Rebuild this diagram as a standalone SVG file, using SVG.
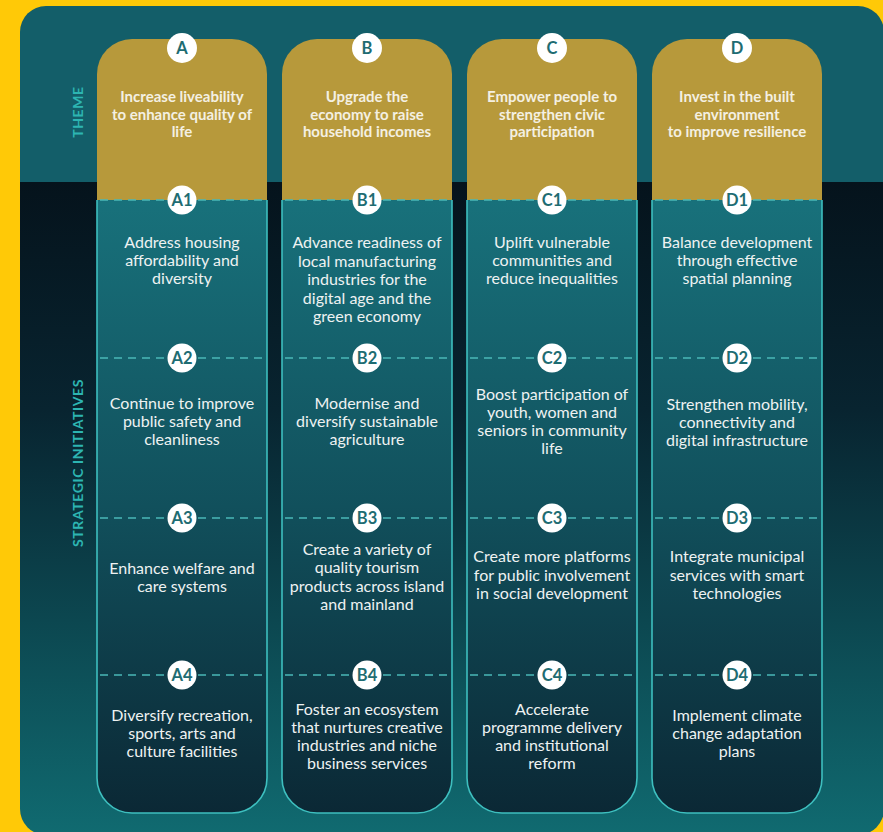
<svg xmlns="http://www.w3.org/2000/svg" width="883" height="832" viewBox="0 0 883 832">
  <defs>
    <clipPath id="panelClip">
      <rect x="20" y="6" width="864" height="829" rx="26"/>
    </clipPath>
    <linearGradient id="bgGrad" x1="0" y1="182" x2="0" y2="832" gradientUnits="userSpaceOnUse">
      <stop offset="0" stop-color="#05131C"/>
      <stop offset="0.35" stop-color="#082430"/>
      <stop offset="1" stop-color="#106A70"/>
    </linearGradient>
    <linearGradient id="colGrad" x1="0" y1="200" x2="0" y2="813" gradientUnits="userSpaceOnUse">
      <stop offset="0" stop-color="#18717B"/>
      <stop offset="0.5" stop-color="#11505C"/>
      <stop offset="1" stop-color="#0B2835"/>
    </linearGradient>
    <style>
      .gold { fill: #B7993B; }
      .strat { fill: url(#colGrad); stroke: #3EBFBF; stroke-width: 1.6; }
      .dash { stroke: #4AB8B8; stroke-width: 1.5; stroke-dasharray: 8 6; fill: none; }
      .badge { fill: #FFFFFF; }
      .blabel { font-family: Lato, "Open Sans", sans-serif; font-weight: 700; font-size: 16.5px; fill: #1E6C72; text-anchor: middle; }
      .theme { font-family: Lato, "Open Sans", sans-serif; font-weight: 700; font-size: 15px; fill: #F4F0E2; text-anchor: middle; }
      .init { font-family: Lato, "Open Sans", sans-serif; font-weight: 400; font-size: 16px; fill: #EEF2F2; text-anchor: middle; }
      .side { font-family: Lato, "Open Sans", sans-serif; font-weight: 700; font-size: 14px; fill: #2DB5B2; text-anchor: middle; letter-spacing: 0.6px; }
    </style>
  </defs>

  <!-- background -->
  <rect x="0" y="0" width="883" height="832" fill="#FFC907"/>
  <g clip-path="url(#panelClip)">
    <rect x="20" y="6" width="864" height="176" fill="#135E69"/>
    <rect x="20" y="182" width="864" height="653" fill="url(#bgGrad)"/>
  </g>

  <text class="side" transform="translate(83,112) rotate(-90)">THEME</text>
  <text class="side" transform="translate(83,463) rotate(-90)">STRATEGIC INITIATIVES</text>

  <!-- Column A -->
  <g id="col-A">
    <path class="gold" d="M97,200 V74 A35,35 0 0 1 132,39 H232 A35,35 0 0 1 267,74 V200 Z"/>
    <path class="strat" d="M97,200 V778 A35,35 0 0 0 132,813 H232 A35,35 0 0 0 267,778 V200"/>
    <line class="dash" x1="100" y1="200" x2="264" y2="200"/>
    <line class="dash" x1="100" y1="358" x2="264" y2="358"/>
    <line class="dash" x1="100" y1="518" x2="264" y2="518"/>
    <line class="dash" x1="100" y1="675" x2="264" y2="675"/>
    <circle class="badge" cx="182" cy="48" r="15"/><text class="blabel" x="182" y="54">A</text>
    <text class="theme" x="182" y="102">Increase liveability</text>
    <text class="theme" x="182" y="119.5">to enhance quality of</text>
    <text class="theme" x="182" y="137">life</text>
    <circle class="badge" cx="182" cy="200" r="14.5"/><text class="blabel" x="182" y="206">A1</text>
    <text class="init" x="182" y="248">Address housing</text>
    <text class="init" x="182" y="266">affordability and</text>
    <text class="init" x="182" y="284">diversity</text>
    <circle class="badge" cx="182" cy="358" r="14.5"/><text class="blabel" x="182" y="364">A2</text>
    <text class="init" x="182" y="409">Continue to improve</text>
    <text class="init" x="182" y="427">public safety and</text>
    <text class="init" x="182" y="445">cleanliness</text>
    <circle class="badge" cx="182" cy="518" r="14.5"/><text class="blabel" x="182" y="524">A3</text>
    <text class="init" x="182" y="574">Enhance welfare and</text>
    <text class="init" x="182" y="592">care systems</text>
    <circle class="badge" cx="182" cy="675" r="14.5"/><text class="blabel" x="182" y="681">A4</text>
    <text class="init" x="182" y="721">Diversify recreation,</text>
    <text class="init" x="182" y="739">sports, arts and</text>
    <text class="init" x="182" y="757">culture facilities</text>
  </g>

  <!-- Column B -->
  <g id="col-B">
    <path class="gold" d="M282,200 V74 A35,35 0 0 1 317,39 H417 A35,35 0 0 1 452,74 V200 Z"/>
    <path class="strat" d="M282,200 V778 A35,35 0 0 0 317,813 H417 A35,35 0 0 0 452,778 V200"/>
    <line class="dash" x1="285" y1="200" x2="449" y2="200"/>
    <line class="dash" x1="285" y1="358" x2="449" y2="358"/>
    <line class="dash" x1="285" y1="518" x2="449" y2="518"/>
    <line class="dash" x1="285" y1="675" x2="449" y2="675"/>
    <circle class="badge" cx="367" cy="48" r="15"/><text class="blabel" x="367" y="54">B</text>
    <text class="theme" x="367" y="102">Upgrade the</text>
    <text class="theme" x="367" y="119.5">economy to raise</text>
    <text class="theme" x="367" y="137">household incomes</text>
    <circle class="badge" cx="367" cy="200" r="14.5"/><text class="blabel" x="367" y="206">B1</text>
    <text class="init" x="367" y="248">Advance readiness of</text>
    <text class="init" x="367" y="266.5">local manufacturing</text>
    <text class="init" x="367" y="285">industries for the</text>
    <text class="init" x="367" y="303.5">digital age and the</text>
    <text class="init" x="367" y="322">green economy</text>
    <circle class="badge" cx="367" cy="358" r="14.5"/><text class="blabel" x="367" y="364">B2</text>
    <text class="init" x="367" y="409">Modernise and</text>
    <text class="init" x="367" y="427">diversify sustainable</text>
    <text class="init" x="367" y="445">agriculture</text>
    <circle class="badge" cx="367" cy="518" r="14.5"/><text class="blabel" x="367" y="524">B3</text>
    <text class="init" x="367" y="555">Create a variety of</text>
    <text class="init" x="367" y="573">quality tourism</text>
    <text class="init" x="367" y="591.5">products across island</text>
    <text class="init" x="367" y="610">and mainland</text>
    <circle class="badge" cx="367" cy="675" r="14.5"/><text class="blabel" x="367" y="681">B4</text>
    <text class="init" x="367" y="715">Foster an ecosystem</text>
    <text class="init" x="367" y="733">that nurtures creative</text>
    <text class="init" x="367" y="751">industries and niche</text>
    <text class="init" x="367" y="769">business services</text>
  </g>

  <!-- Column C -->
  <g id="col-C">
    <path class="gold" d="M467,200 V74 A35,35 0 0 1 502,39 H602 A35,35 0 0 1 637,74 V200 Z"/>
    <path class="strat" d="M467,200 V778 A35,35 0 0 0 502,813 H602 A35,35 0 0 0 637,778 V200"/>
    <line class="dash" x1="470" y1="200" x2="634" y2="200"/>
    <line class="dash" x1="470" y1="358" x2="634" y2="358"/>
    <line class="dash" x1="470" y1="518" x2="634" y2="518"/>
    <line class="dash" x1="470" y1="675" x2="634" y2="675"/>
    <circle class="badge" cx="552" cy="48" r="15"/><text class="blabel" x="552" y="54">C</text>
    <text class="theme" x="552" y="102">Empower people to</text>
    <text class="theme" x="552" y="119.5">strengthen civic</text>
    <text class="theme" x="552" y="137">participation</text>
    <circle class="badge" cx="552" cy="200" r="14.5"/><text class="blabel" x="552" y="206">C1</text>
    <text class="init" x="552" y="248">Uplift vulnerable</text>
    <text class="init" x="552" y="266">communities and</text>
    <text class="init" x="552" y="284">reduce inequalities</text>
    <circle class="badge" cx="552" cy="358" r="14.5"/><text class="blabel" x="552" y="364">C2</text>
    <text class="init" x="552" y="400">Boost participation of</text>
    <text class="init" x="552" y="418">youth, women and</text>
    <text class="init" x="552" y="436">seniors in community</text>
    <text class="init" x="552" y="454">life</text>
    <circle class="badge" cx="552" cy="518" r="14.5"/><text class="blabel" x="552" y="524">C3</text>
    <text class="init" x="552" y="562">Create more platforms</text>
    <text class="init" x="552" y="580.5">for public involvement</text>
    <text class="init" x="552" y="599">in social development</text>
    <circle class="badge" cx="552" cy="675" r="14.5"/><text class="blabel" x="552" y="681">C4</text>
    <text class="init" x="552" y="715">Accelerate</text>
    <text class="init" x="552" y="733">programme delivery</text>
    <text class="init" x="552" y="751">and institutional</text>
    <text class="init" x="552" y="769">reform</text>
  </g>

  <!-- Column D -->
  <g id="col-D">
    <path class="gold" d="M652,200 V74 A35,35 0 0 1 687,39 H787 A35,35 0 0 1 822,74 V200 Z"/>
    <path class="strat" d="M652,200 V778 A35,35 0 0 0 687,813 H787 A35,35 0 0 0 822,778 V200"/>
    <line class="dash" x1="655" y1="200" x2="819" y2="200"/>
    <line class="dash" x1="655" y1="358" x2="819" y2="358"/>
    <line class="dash" x1="655" y1="518" x2="819" y2="518"/>
    <line class="dash" x1="655" y1="675" x2="819" y2="675"/>
    <circle class="badge" cx="737" cy="48" r="15"/><text class="blabel" x="737" y="54">D</text>
    <text class="theme" x="737" y="102">Invest in the built</text>
    <text class="theme" x="737" y="119.5">environment</text>
    <text class="theme" x="737" y="137">to improve resilience</text>
    <circle class="badge" cx="737" cy="200" r="14.5"/><text class="blabel" x="737" y="206">D1</text>
    <text class="init" x="737" y="248">Balance development</text>
    <text class="init" x="737" y="266">through effective</text>
    <text class="init" x="737" y="284">spatial planning</text>
    <circle class="badge" cx="737" cy="358" r="14.5"/><text class="blabel" x="737" y="364">D2</text>
    <text class="init" x="737" y="410">Strengthen mobility,</text>
    <text class="init" x="737" y="428">connectivity and</text>
    <text class="init" x="737" y="446">digital infrastructure</text>
    <circle class="badge" cx="737" cy="518" r="14.5"/><text class="blabel" x="737" y="524">D3</text>
    <text class="init" x="737" y="562">Integrate municipal</text>
    <text class="init" x="737" y="580.5">services with smart</text>
    <text class="init" x="737" y="599">technologies</text>
    <circle class="badge" cx="737" cy="675" r="14.5"/><text class="blabel" x="737" y="681">D4</text>
    <text class="init" x="737" y="721">Implement climate</text>
    <text class="init" x="737" y="739">change adaptation</text>
    <text class="init" x="737" y="757">plans</text>
  </g>

  <g id="connectors"></g>
</svg>
